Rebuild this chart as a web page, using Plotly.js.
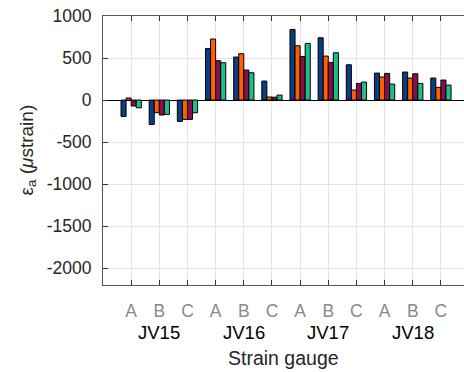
<!DOCTYPE html>
<html><head><meta charset="utf-8">
<script src="https://cdn.plot.ly/plotly-3.0.1.min.js"></script>
<style>html,body{margin:0;padding:0;background:#fff;}</style>
</head><body><div id="chart" style="width:464px;height:372px;"></div>
<script>
const groups = ["JV15", "JV16", "JV17", "JV18"];
const gauges = ["A", "B", "C"];
const seriesNames = ["S1", "S2", "S3", "S4"];
const seriesColors = ["#0b3d84", "#ff5f00", "#8c0c4e", "#1fbf8c"];
// values per category (JV15 A,B,C, JV16 A,B,C, JV17 A,B,C, JV18 A,B,C)
const s1 = [-195, -290, -254, 614, 512, 226, 840, 741, 420, 321, 333, 262];
const s2 = [25, -150, -230, 726, 551, 36, 646, 523, 119, 274, 262, 151];
const s3 = [-71, -178, -230, 468, 357, 34, 519, 448, 198, 317, 313, 238];
const s4 = [-92, -171, -151, 444, 325, 59, 674, 563, 214, 190, 198, 178];
const seriesValues = [s1, s2, s3, s4];
const yTicks = [1000, 500, 0, -500, -1000, -1500, -2000];

const cats = [];
const catText = [];
groups.forEach(g => gauges.forEach(k => { cats.push(g + "-" + k); catText.push(k); }));

const traces = seriesValues.map((vals, i) => ({
  type: "bar", x: cats, y: vals, name: seriesNames[i],
  marker: {color: seriesColors[i], line: {color: "#000", width: 1}},
  hoverinfo: "skip"
}));

const font = "Liberation Sans, Arial, sans-serif";
const annotations = groups.map((g, i) => ({
  text: g, x: i * gauges.length + 1, xref: "x", y: -0.175, yref: "paper",
  showarrow: false, yanchor: "middle", font: {family: font, size: 18.5, color: "#000"}
}));
annotations.push({
  text: "Strain gauge", x: 0.5, xref: "paper", y: -0.27, yref: "paper",
  showarrow: false, yanchor: "middle", font: {family: font, size: 19.5, color: "#262626"}
});
annotations.push({
  text: "ε<sub>a</sub> (<i>μ</i>strain)", x: 27, xref: "pixel", y: 0.5, yref: "paper",
  showarrow: false, textangle: -90, xanchor: "center", yanchor: "middle",
  font: {family: font, size: 19, color: "#262626"}
});
// position y-title annotation in paper coords from left margin
annotations[annotations.length - 1].xref = "paper";
annotations[annotations.length - 1].x = (27 - 103) / 361;

const layout = {
  width: 464, height: 372,
  margin: {l: 103, r: 0, t: 16, b: 87},
  paper_bgcolor: "#fff", plot_bgcolor: "#fff",
  showlegend: false,
  barmode: "group", bargap: 0.28, bargroupgap: 0,
  font: {family: font, size: 17.5, color: "#262626"},
  xaxis: {
    type: "category", categoryorder: "array", categoryarray: cats,
    tickvals: cats, ticktext: catText,
    range: [-1, 11.82],
    showgrid: true, gridcolor: "#e4e4e4", gridwidth: 1,
    showline: true, linecolor: "#555", linewidth: 1, mirror: "ticks",
    ticks: "inside", ticklen: 5, tickcolor: "#333",
    tickfont: {family: font, size: 17.5, color: "#8a8a8a"},
    ticklabelstandoff: 10,
    zeroline: false, fixedrange: true
  },
  yaxis: {
    range: [-2200, 1000],
    tickvals: yTicks, ticktext: yTicks.map(String),
    showgrid: true, gridcolor: "#e4e4e4", gridwidth: 1,
    showline: true, linecolor: "#555", linewidth: 1, mirror: false,
    ticks: "inside", ticklen: 5, tickcolor: "#333",
    tickfont: {family: font, size: 17.5, color: "#262626"},
    ticklabelstandoff: 7,
    zeroline: true, zerolinecolor: "#000", zerolinewidth: 1,
    fixedrange: true
  },
  annotations: annotations
};

Plotly.newPlot("chart", traces, layout, {displayModeBar: false, staticPlot: true});
</script></body></html>
